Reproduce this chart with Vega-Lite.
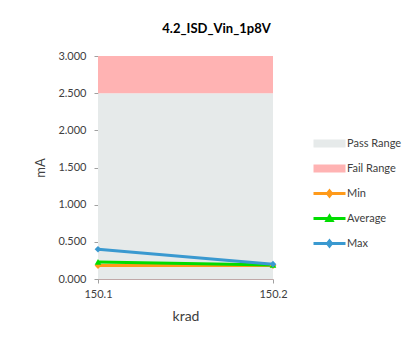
{
  "$schema": "https://vega.github.io/schema/vega-lite/v6.json",
  "autosize": "none",
  "width": 175,
  "height": 223,
  "padding": {"left": 98, "top": 56, "right": 144, "bottom": 65},
  "background": "white",
  "config": {
    "font": "Lato",
    "view": {"stroke": null},
    "axis": {"labelFont": "Lato", "titleFont": "Lato", "labelColor": "#404040", "titleColor": "#404040", "labelFontSize": 11, "titleFontSize": 14, "titleFontWeight": "normal", "grid": false, "tickColor": "#a0a0a0", "domainColor": "#a0a0a0", "tickSize": 4, "labelOverlap": false},
    "legend": {"symbolType": "M-3.2,0H3.2M0,-0.5L0.4,0L0,0.5L-0.4,0Z"}
  },
  "title": {"text": "4.2_ISD_Vin_1p8V", "font": "Lato", "fontSize": 13, "fontWeight": "bold", "color": "#000000", "anchor": "middle", "dx": 31, "offset": 14},
  "datasets": {
    "ranges": [
      {"krad": 150.1, "series": "Pass Range", "lo": 0, "hi": 2.5},
      {"krad": 150.2, "series": "Pass Range", "lo": 0, "hi": 2.5},
      {"krad": 150.1, "series": "Fail Range", "lo": 2.5, "hi": 3.0},
      {"krad": 150.2, "series": "Fail Range", "lo": 2.5, "hi": 3.0}
    ],
    "lines": [
      {"krad": 150.1, "series": "Min", "mA": 0.18},
      {"krad": 150.2, "series": "Min", "mA": 0.18},
      {"krad": 150.1, "series": "Average", "mA": 0.23},
      {"krad": 150.2, "series": "Average", "mA": 0.19},
      {"krad": 150.1, "series": "Max", "mA": 0.40},
      {"krad": 150.2, "series": "Max", "mA": 0.20}
    ]
  },
  "layer": [
    {
      "data": {"name": "ranges"},
      "mark": {"type": "area", "opacity": 1},
      "encoding": {
        "x": {"field": "krad", "type": "quantitative", "scale": {"domain": [150.1, 150.2], "nice": false, "zero": false},
          "axis": {"values": [150.1, 150.2], "format": ".1f", "title": "krad", "labelPadding": 5, "titlePadding": 10, "domainColor": "#c0a8a8", "labelFlush": false}},
        "y": {"field": "lo", "type": "quantitative", "scale": {"domain": [0, 3], "nice": false},
          "axis": {"values": [0, 0.5, 1, 1.5, 2, 2.5, 3], "format": ".3f", "title": "mA", "labelPadding": 8, "titlePadding": 10, "titleFontSize": 13, "labelOverlap": false}},
        "y2": {"field": "hi"},
        "color": {"field": "series", "type": "nominal",
          "scale": {"domain": ["Pass Range", "Fail Range", "Min", "Average", "Max"], "range": ["#e6eaea", "#ffb3b3", "#ff9a1a", "#00dd00", "#3a99d0"]},
          "legend": {
            "title": null, "orient": "none", "legendX": 225, "legendY": 81,
            "labelFont": "Lato", "labelFontSize": 11, "labelColor": "#404040",
            "symbolSize": 100, "rowPadding": 8, "labelOffset": 11,
            "encode": {"symbols": {"update": {
              "shape": {"signal": "datum.value == 'Pass Range' || datum.value == 'Fail Range' ? 'M-2.9,-0.5H2.9V0.5H-2.9Z' : (datum.value == 'Average' ? 'M-3.2,0H3.2M-0.5,0.4L0,-0.45L0.5,0.4Z' : 'M-3.2,0H3.2M0,-0.5L0.4,0L0,0.5L-0.4,0Z')"},
              "fill": {"scale": "color", "field": "value"},
              "stroke": {"scale": "color", "field": "value"},
              "strokeWidth": {"value": 3},
              "opacity": {"value": 1}
            }}}
          }}
      }
    },
    {
      "data": {"name": "lines"},
      "mark": {"type": "line", "strokeWidth": 3},
      "encoding": {
        "x": {"field": "krad", "type": "quantitative", "axis": {"values": [150.1, 150.2], "format": ".1f", "title": "krad", "labelPadding": 5, "titlePadding": 10, "domainColor": "#c0a8a8", "labelFlush": false}},
        "y": {"field": "mA", "type": "quantitative", "axis": {"values": [0, 0.5, 1, 1.5, 2, 2.5, 3], "format": ".3f", "title": "mA", "labelPadding": 8, "titlePadding": 10, "titleFontSize": 13, "labelOverlap": false}},
        "color": {"field": "series", "type": "nominal", "legend": {
            "title": null, "orient": "none", "legendX": 225, "legendY": 81,
            "labelFont": "Lato", "labelFontSize": 11, "labelColor": "#404040",
            "symbolSize": 100, "rowPadding": 8, "labelOffset": 11,
            "encode": {"symbols": {"update": {
              "shape": {"signal": "datum.value == 'Pass Range' || datum.value == 'Fail Range' ? 'M-2.9,-0.5H2.9V0.5H-2.9Z' : (datum.value == 'Average' ? 'M-3.2,0H3.2M-0.5,0.4L0,-0.45L0.5,0.4Z' : 'M-3.2,0H3.2M0,-0.5L0.4,0L0,0.5L-0.4,0Z')"},
              "fill": {"scale": "color", "field": "value"},
              "stroke": {"scale": "color", "field": "value"},
              "strokeWidth": {"value": 3},
              "opacity": {"value": 1}
            }}}
          }}
      }
    },
    {
      "data": {"name": "lines"},
      "mark": {"type": "point", "filled": true, "size": 45, "opacity": 1},
      "encoding": {
        "x": {"field": "krad", "type": "quantitative", "axis": {"values": [150.1, 150.2], "format": ".1f", "title": "krad", "labelPadding": 5, "titlePadding": 10, "domainColor": "#c0a8a8", "labelFlush": false}},
        "y": {"field": "mA", "type": "quantitative", "axis": {"values": [0, 0.5, 1, 1.5, 2, 2.5, 3], "format": ".3f", "title": "mA", "labelPadding": 8, "titlePadding": 10, "titleFontSize": 13, "labelOverlap": false}},
        "color": {"field": "series", "type": "nominal", "legend": null},
        "shape": {"field": "series", "type": "nominal", "scale": {"domain": ["Min", "Average", "Max"], "range": ["diamond", "triangle-up", "diamond"]}, "legend": null}
      }
    }
  ]
}
